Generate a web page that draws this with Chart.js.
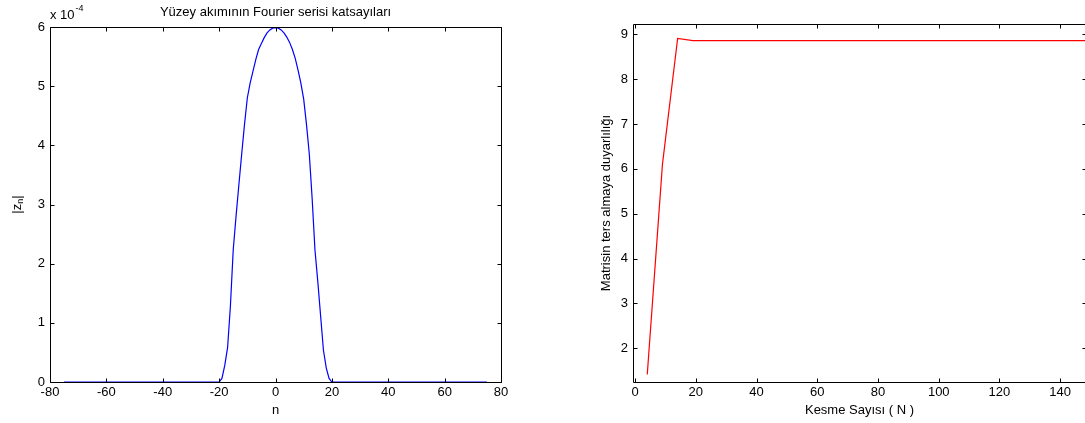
<!DOCTYPE html>
<html>
<head>
<meta charset="utf-8">
<script src="https://cdn.jsdelivr.net/npm/chart.js@4.4.1/dist/chart.umd.min.js"></script>
<style>
html, body { margin: 0; padding: 0; background: #fff; overflow: hidden; width: 1085px; height: 423px; }
#left { position: absolute; left: 0; top: 0; }
#right { position: absolute; left: 560px; top: 0; }
</style>
</head>
<body>
<canvas id="left" width="530" height="423"></canvas>
<canvas id="right" width="540" height="423"></canvas>
<script>
// left plot: |z_n| (in units of 1e-4), tails are zero out to +-75
var nVals = [-75, -20, -19, -18, -17, -16, -15, -14, -13, -12, -11, -10, -9, -8, -7, -6, -5, -4, -3, -2, -1,
             0, 1, 2, 3, 4, 5, 6, 7, 8, 9, 10, 11, 12, 13, 14, 15, 16, 17, 18, 19, 20, 75];
var znVals = [0, 0, 0.06, 0.28, 0.58, 1.28, 2.23, 2.8, 3.33, 3.85, 4.35, 4.8, 5.05, 5.25, 5.45, 5.62, 5.72, 5.82, 5.9, 5.95, 5.98,
              5.99, 5.98, 5.95, 5.9, 5.83, 5.74, 5.62, 5.47, 5.27, 5.05, 4.78, 4.35, 3.85, 3.1, 2.23, 1.7, 1.12, 0.54, 0.24, 0.06, 0, 0];
var leftXTicks = [-80, 80, 20];
var leftYTicks = [0, 6, 1];

// right plot: condition vs truncation N
var kesmeN = [4, 9, 14, 19, 149];
var duyarlilik = [1.42, 6.1, 8.91, 8.86, 8.86];
var rightXTicks = [-0.7, 148.5, 20];
var rightYTicks = [1.25, 9.23, 1];

var FONT = "'Liberation Sans', Arial, Helvetica, sans-serif";
var FS = 13;

function pts(xs, ys) {
	var d = [];
	for (var i = 0; i < xs.length; i++) d.push({ x: xs[i], y: ys[i] });
	return d;
}

// matlab style box, inward ticks on all four sides, labels
var matlabAxes = {
	id: 'matlabAxes',
	afterDraw: function(chart, args, o) {
		var ctx = chart.ctx, a = chart.chartArea, sx = chart.scales.x, sy = chart.scales.y;
		var L = Math.round(a.left) + 0.5, R = Math.round(a.right) + 0.5;
		var T = Math.round(a.top) + 0.5, B = Math.round(a.bottom) + 0.5;
		var tl = 4;
		ctx.save();
		ctx.strokeStyle = '#000';
		ctx.lineWidth = 1;
		ctx.beginPath();
		ctx.rect(L, T, R - L, B - T);
		sx.ticks.forEach(function(t) {
			var px = Math.round(sx.getPixelForValue(t.value)) + 0.5;
			ctx.moveTo(px, B); ctx.lineTo(px, B - tl);
			ctx.moveTo(px, T); ctx.lineTo(px, T + tl);
		});
		sy.ticks.forEach(function(t) {
			var py = Math.round(sy.getPixelForValue(t.value)) + 0.5;
			ctx.moveTo(L, py); ctx.lineTo(L + tl, py);
			ctx.moveTo(R, py); ctx.lineTo(R - tl, py);
		});
		ctx.stroke();

		ctx.fillStyle = '#000';
		ctx.font = FS + 'px ' + FONT;
		ctx.textBaseline = 'middle';
		ctx.textAlign = 'center';
		var cx = (a.left + a.right) / 2, cy = (a.top + a.bottom) / 2;
		if (o.title) ctx.fillText(o.title, cx, 12);
		if (o.xLabel) ctx.fillText(o.xLabel, cx, 410);
		if (o.exponent) {
			ctx.textAlign = 'left';
			ctx.textBaseline = 'alphabetic';
			ctx.fillText('x 10', a.left, 19);
			var w = ctx.measureText('x 10').width;
			ctx.font = '9px ' + FONT;
			ctx.fillText(o.exponent, a.left + w + 1, 11);
			ctx.font = FS + 'px ' + FONT;
		}
		if (o.yLabel) {
			ctx.save();
			ctx.translate(o.yLabelX, cy);
			ctx.rotate(-Math.PI / 2);
			ctx.textBaseline = 'middle';
			if (o.yLabelSub) {
				// |z_n| with subscript n
				var p1 = '|z', p3 = '|';
				ctx.font = FS + 'px ' + FONT;
				var w1 = ctx.measureText(p1).width;
				ctx.font = '9px ' + FONT;
				var w2 = ctx.measureText(o.yLabelSub).width;
				ctx.font = FS + 'px ' + FONT;
				var w3 = ctx.measureText(p3).width;
				var x0 = -(w1 + w2 + w3) / 2;
				ctx.textAlign = 'left';
				ctx.fillText(p1, x0, 0);
				ctx.font = '9px ' + FONT;
				ctx.fillText(o.yLabelSub, x0 + w1, 4);
				ctx.font = FS + 'px ' + FONT;
				ctx.fillText(p3, x0 + w1 + w2, 0);
			} else {
				ctx.textAlign = 'center';
				ctx.fillText(o.yLabel, 0, 0);
			}
			ctx.restore();
		}
		ctx.restore();
	}
};

function axisOpts(lim, fitW, fitH, pad) {
	return {
		type: 'linear',
		min: lim[0], max: lim[1],
		grid: { display: false, drawTicks: false },
		border: { display: false },
		ticks: {
			stepSize: lim[2], includeBounds: false, padding: pad,
			color: '#000', font: { family: FONT, size: FS },
			maxRotation: 0, autoSkip: false
		},
		afterFit: function(s) {
			if (fitW) s.width = fitW;
			if (fitH) s.height = fitH;
		}
	};
}

new Chart(document.getElementById('left'), {
	type: 'line',
	data: {
		datasets: [{
			data: pts(nVals, znVals),
			borderColor: '#0000ff',
			borderWidth: 1.2,
			pointRadius: 0,
			tension: 0,
			fill: false
		}]
	},
	options: {
		responsive: false,
		animation: false,
		layout: { padding: { top: 27, right: 29, left: 0, bottom: 0 } },
		scales: {
			x: axisOpts(leftXTicks, 0, 41, 3),
			y: axisOpts(leftYTicks, 50, 0, 5)
		},
		plugins: {
			legend: { display: false },
			tooltip: { enabled: false },
			matlabAxes: {
				title: 'Yüzey akımının Fourier serisi katsayıları',
				xLabel: 'n',
				yLabel: '|z_n|', yLabelSub: 'n', yLabelX: 17,
				exponent: '-4'
			}
		}
	},
	plugins: [matlabAxes]
});

new Chart(document.getElementById('right'), {
	type: 'line',
	data: {
		datasets: [{
			data: pts(kesmeN, duyarlilik),
			borderColor: '#ff0000',
			borderWidth: 1.2,
			pointRadius: 0,
			tension: 0,
			fill: false
		}]
	},
	options: {
		responsive: false,
		animation: false,
		layout: { padding: { top: 24, right: 14, left: 0, bottom: 0 } },
		scales: {
			x: axisOpts(rightXTicks, 0, 41, 3),
			y: axisOpts(rightYTicks, 73, 0, 5)
		},
		plugins: {
			legend: { display: false },
			tooltip: { enabled: false },
			matlabAxes: {
				xLabel: 'Kesme Sayısı ( N )',
				yLabel: 'Matrisin ters almaya duyarlılığı', yLabelX: 46
			}
		}
	},
	plugins: [matlabAxes]
});
</script>
</body>
</html>
